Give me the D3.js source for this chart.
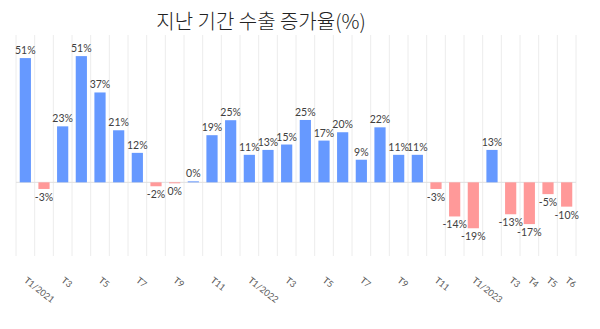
<!DOCTYPE html>
<html>
<head>
<meta charset="utf-8">
<script src="https://cdn.jsdelivr.net/npm/d3@7"></script>
<style>
  html, body { margin: 0; padding: 0; background: #fff; }
  svg { display: block; }
</style>
</head>
<body>
<svg id="chart" width="600" height="329"></svg>
<script>
// Monthly export growth, Jan 2021 – Jun 2023
const months = [
  "T1/2021","T2/2021","T3/2021","T4/2021","T5/2021","T6/2021",
  "T7/2021","T8/2021","T9/2021","T10/2021","T11/2021","T12/2021",
  "T1/2022","T2/2022","T3/2022","T4/2022","T5/2022","T6/2022",
  "T7/2022","T8/2022","T9/2022","T10/2022","T11/2022","T12/2022",
  "T1/2023","T2/2023","T3/2023","T4/2023","T5/2023","T6/2023"
];
const growth = [
  50.6, -2.7, 22.8, 51.4, 36.6, 21.2, 12.0, -1.6, -0.4, 0.4, 19.2, 25.3,
  11.2, 13.2, 15.4, 25.4, 17.0, 20.4, 9.2, 22.4, 11.2, 11.2,
  -2.7, -13.9, -18.7, 13.2, -13.0, -17.0, -4.8, -9.9
];
// Axis labels shown under the bars (keyed by month)
const tickLabels = {
  "T1/2021": "T1/2021", "T3/2021": "T3", "T5/2021": "T5", "T7/2021": "T7",
  "T9/2021": "T9", "T11/2021": "T11", "T1/2022": "T1/2022", "T3/2022": "T3",
  "T5/2022": "T5", "T7/2022": "T7", "T9/2022": "T9", "T11/2022": "T11",
  "T1/2023": "T1/2023", "T3/2023": "T3", "T4/2023": "T4", "T5/2023": "T5",
  "T6/2023": "T6"
};
const title = "지난 기간 수출 증가율(%)";

const svg = d3.select("#chart");

const x = d3.scaleBand()
  .domain(months)
  .range([16, 576])
  .paddingInner(0.4)
  .paddingOuter(0.2);

const y = d3.scaleLinear()
  .domain([-30, 60])
  .range([256, 35]);

const step = x.step();
const data = months.map((m, i) => ({ m, v: growth[i] }));

// vertical category separators
svg.append("g")
  .selectAll("line")
  .data(d3.range(months.length + 1))
  .join("line")
  .attr("x1", i => 16 + i * step)
  .attr("x2", i => 16 + i * step)
  .attr("y1", y(60))
  .attr("y2", y(-30))
  .attr("stroke", "#ececec")
  .attr("stroke-width", 1);

// zero baseline
svg.append("line")
  .attr("x1", 16).attr("x2", 576)
  .attr("y1", y(0)).attr("y2", y(0))
  .attr("stroke", "#e0e0e0")
  .attr("stroke-width", 1);

// bars
svg.append("g")
  .selectAll("rect")
  .data(data)
  .join("rect")
  .attr("x", d => x(d.m))
  .attr("width", x.bandwidth())
  .attr("y", d => y(Math.max(0, d.v)))
  .attr("height", d => Math.abs(y(d.v) - y(0)))
  .attr("fill", d => d.v >= 0 ? "#6699ff" : "#ff9999");

// value labels (rounded to whole percent, ASCII hyphen for negatives)
const fmt = v => {
  const r = Math.round(v);
  return (r === 0 ? "0" : String(r)) + "%";
};
svg.append("g")
  .selectAll("text")
  .data(data)
  .join("text")
  .attr("x", d => x(d.m) + x.bandwidth() / 2)
  .attr("y", d => d.v >= 0 ? y(d.v) - 4 : y(d.v) + 12)
  .attr("text-anchor", "middle")
  .attr("font-family", "Lato, 'Open Sans', sans-serif")
  .attr("font-size", 10.5)
  .attr("fill", "#404040")
  .text(d => fmt(d.v));

// category axis
const xAxis = d3.axisBottom(x)
  .tickSize(0)
  .tickFormat(m => tickLabels[m] || "");

const ax = svg.append("g")
  .attr("transform", "translate(0,279)")
  .call(xAxis);
ax.select(".domain").remove();
ax.selectAll("text")
  .attr("font-family", "Lato, 'Open Sans', sans-serif")
  .attr("font-size", 9)
  .attr("fill", "#595959")
  .attr("text-anchor", "start")
  .attr("x", 0)
  .attr("y", 0)
  .attr("dy", "0.35em")
  .attr("transform", "rotate(38)");

// title
svg.append("text")
  .attr("x", 261)
  .attr("y", 29)
  .attr("text-anchor", "middle")
  .attr("font-family", "'Noto Sans CJK KR', sans-serif")
  .attr("font-weight", 300)
  .attr("font-size", 20)
  .attr("fill", "#222")
  .text(title);
</script>
</body>
</html>
